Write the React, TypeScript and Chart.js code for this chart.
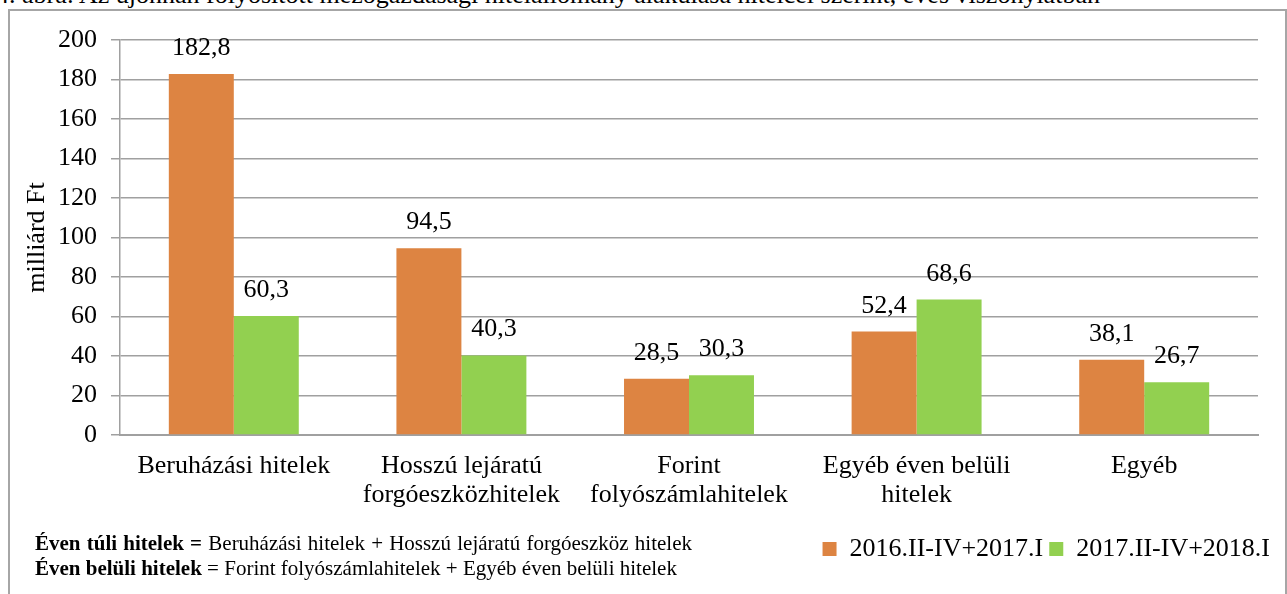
import React, { useEffect, useRef } from "react";
import { Chart, registerables } from "chart.js";

Chart.register(...registerables);

const FONT = '"Liberation Serif", "Times New Roman", serif';

const titleText =
  "4. ábra: Az újonnan folyósított mezőgazdasági hitelállomány alakulása hitelcél szerint, éves viszonylatban";

const categories: string[][] = [
  ["Beruházási hitelek"],
  ["Hosszú lejáratú", "forgóeszközhitelek"],
  ["Forint", "folyószámlahitelek"],
  ["Egyéb éven belüli", "hitelek"],
  ["Egyéb"],
];

const seriesNames = ["2016.II-IV+2017.I", "2017.II-IV+2018.I"];
const series2016 = [182.8, 94.5, 28.5, 52.4, 38.1];
const series2017 = [60.3, 40.3, 30.3, 68.6, 26.7];

const yMin = 0;
const yMax = 200;
const yStep = 20;
const yTitle = "milliárd Ft";

const ORANGE = "#DD8442";
const GREEN = "#92D050";
const GRID = "#a0a0a0";
const FS = 26;

const valueLabels = {
  id: "valueLabels",
  afterDatasetsDraw(chart: any) {
    const ctx = chart.ctx;
    ctx.save();
    ctx.font = `${FS}px ${FONT}`;
    ctx.fillStyle = "#000";
    ctx.textAlign = "center";
    ctx.textBaseline = "alphabetic";
    chart.data.datasets.forEach((ds: any, i: number) => {
      const meta = chart.getDatasetMeta(i);
      meta.data.forEach((bar: any, j: number) => {
        const v = ds.data[j] as number;
        ctx.fillText(v.toFixed(1).replace(".", ","), bar.x, bar.y - 19);
      });
    });
    ctx.restore();
  },
};

const legendShift = {
  id: "legendShift",
  afterLayout(chart: any) {
    if (chart.legend) {
      chart.legend.left += 18;
      chart.legend.right += 18;
    }
  },
};

export default function App() {
  const ref = useRef<HTMLCanvasElement | null>(null);

  useEffect(() => {
    if (!ref.current) return;
    const chart = new Chart(ref.current, {
      type: "bar",
      data: {
        labels: categories,
        datasets: [
          {
            label: seriesNames[0],
            data: series2016,
            backgroundColor: ORANGE,
            categoryPercentage: 0.571,
            barPercentage: 1,
          },
          {
            label: seriesNames[1],
            data: series2017,
            backgroundColor: GREEN,
            categoryPercentage: 0.571,
            barPercentage: 1,
          },
        ],
      },
      options: {
        responsive: true,
        maintainAspectRatio: false,
        animation: false,
        layout: { padding: { left: 0, right: 29, top: 40, bottom: 22 } },
        plugins: {
          legend: {
            position: "bottom",
            align: "end",
            labels: {
              boxWidth: 14,
              boxHeight: 14,
              padding: 6,
              color: "#000",
              font: { size: FS, family: FONT },
            },
          },
          tooltip: { enabled: false },
        },
        scales: {
          x: {
            grid: { display: false, drawTicks: false },
            border: { display: true, color: GRID, width: 2 },
            ticks: {
              color: "#000",
              font: { size: FS, family: FONT, lineHeight: 1.1 },
              padding: 17,
              maxRotation: 0,
              autoSkip: false,
            },
            afterFit: (s: any) => {
              s.height = 95;
            },
          },
          y: {
            min: yMin,
            max: yMax,
            ticks: {
              stepSize: yStep,
              color: "#000",
              font: { size: FS, family: FONT },
              padding: 14,
            },
            grid: { color: GRID, lineWidth: 1.5, tickLength: 9, drawTicks: true },
            border: { display: true, color: GRID, width: 1.5 },
            title: {
              display: true,
              text: yTitle,
              color: "#000",
              font: { size: FS, family: FONT },
              padding: { top: 22, bottom: 0 },
            },
            afterFit: (s: any) => {
              s.width = 120;
            },
          },
        },
      },
      plugins: [valueLabels, legendShift],
    });
    return () => chart.destroy();
  }, []);

  return (
    <div
      style={{
        position: "absolute",
        left: 0,
        top: 0,
        width: 1287,
        height: 594,
        overflow: "hidden",
        background: "#fff",
        fontFamily: FONT,
      }}
    >
      <div
        style={{
          position: "absolute",
          left: -4,
          top: -20,
          fontSize: 26,
          whiteSpace: "nowrap",
          color: "#000",
        }}
      >
        {titleText}
      </div>
      <div
        style={{
          position: "absolute",
          left: 8,
          top: 9,
          width: 1275,
          height: 700,
          border: "2px solid #a6a6a6",
        }}
      />
      <div style={{ position: "absolute", left: 0, top: 0, width: 1287, height: 594 }}>
        <canvas ref={ref} />
      </div>
      <div
        style={{
          position: "absolute",
          left: 35,
          top: 531,
          fontSize: 21,
          lineHeight: "25px",
          color: "#000",
          whiteSpace: "nowrap",
        }}
      >
        <div style={{ width: 657, textAlign: "justify", textAlignLast: "justify" }}>
          <b>Éven túli hitelek =</b> Beruházási hitelek + Hosszú lejáratú forgóeszköz hitelek
        </div>
        <div>
          <b>Éven belüli hitelek</b> = Forint folyószámlahitelek + Egyéb éven belüli hitelek
        </div>
      </div>
    </div>
  );
}
